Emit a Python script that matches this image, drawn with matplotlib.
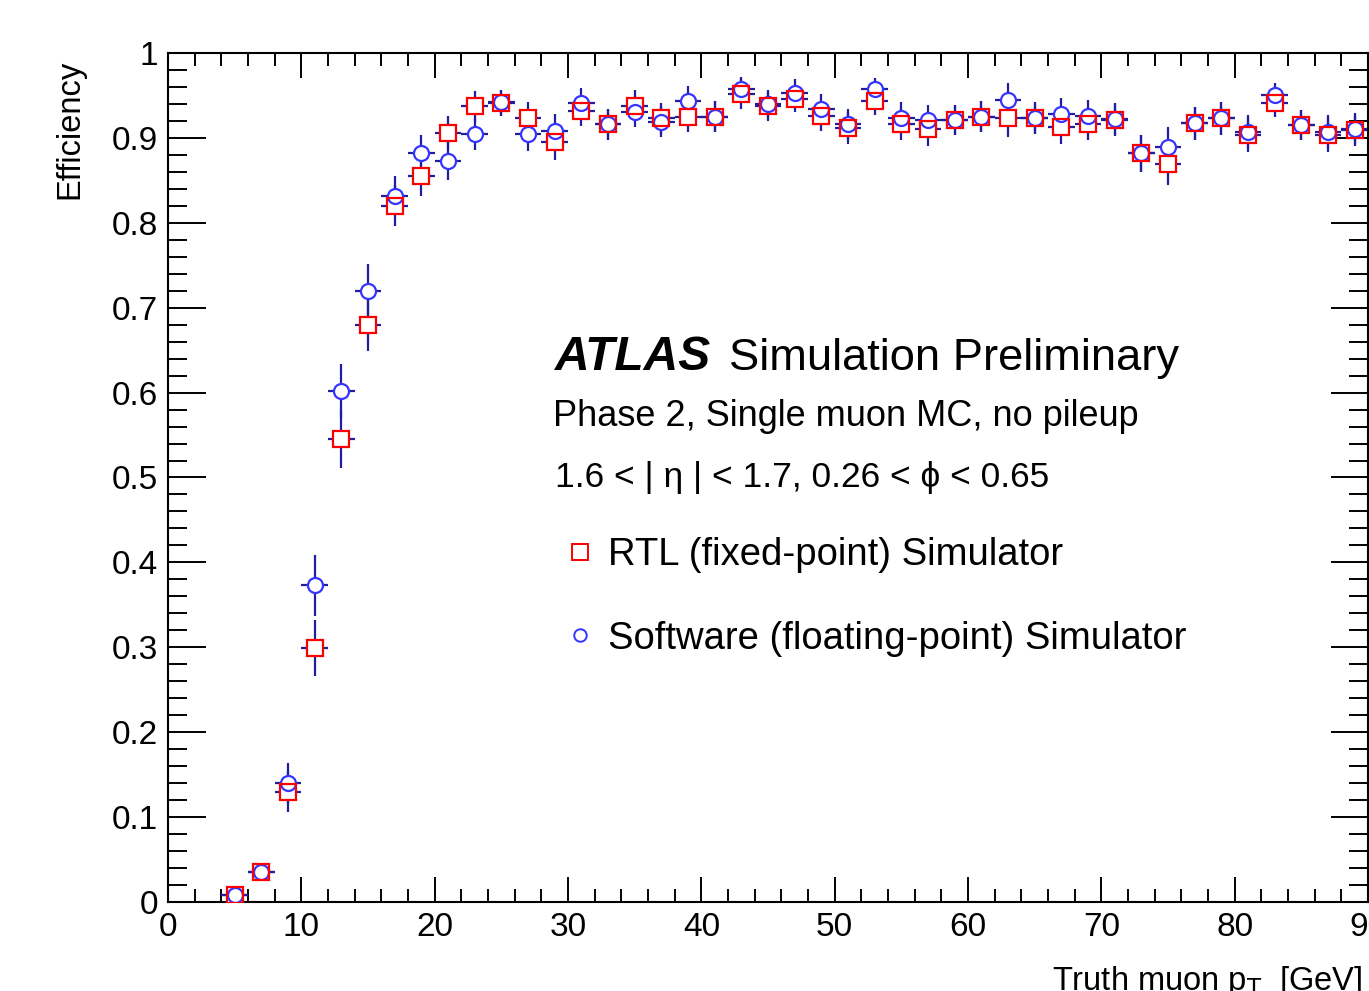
import numpy as np
import matplotlib.pyplot as plt
from matplotlib.lines import Line2D
from matplotlib.ticker import MultipleLocator, FuncFormatter

plt.rcParams['font.family'] = ['Liberation Sans', 'DejaVu Sans']

# bin centres (2 GeV bins)
pt = np.arange(5, 90, 2)

eff_rtl = [0.008, 0.035, 0.130, 0.299, 0.545, 0.680, 0.820, 0.855, 0.906, 0.937,
           0.941, 0.923, 0.895, 0.932, 0.916, 0.938, 0.923, 0.925, 0.925, 0.952,
           0.937, 0.946, 0.926, 0.912, 0.943, 0.916, 0.910, 0.921, 0.925, 0.923,
           0.924, 0.913, 0.916, 0.921, 0.882, 0.869, 0.917, 0.923, 0.903, 0.941,
           0.915, 0.903, 0.909]
err_rtl = [0.006, 0.010, 0.024, 0.033, 0.034, 0.031, 0.024, 0.024, 0.020, 0.018,
           0.015, 0.019, 0.021, 0.018, 0.018, 0.018, 0.018, 0.018, 0.018, 0.018,
           0.017, 0.016, 0.018, 0.019, 0.016, 0.019, 0.020, 0.018, 0.018, 0.022,
           0.018, 0.020, 0.019, 0.019, 0.022, 0.025, 0.019, 0.019, 0.020, 0.016,
           0.018, 0.020, 0.018]

eff_sw = [0.008, 0.035, 0.140, 0.373, 0.602, 0.720, 0.832, 0.882, 0.873, 0.905,
          0.942, 0.905, 0.908, 0.941, 0.916, 0.931, 0.919, 0.943, 0.925, 0.958,
          0.940, 0.953, 0.934, 0.916, 0.958, 0.924, 0.921, 0.921, 0.925, 0.945,
          0.923, 0.928, 0.926, 0.922, 0.882, 0.889, 0.917, 0.923, 0.907, 0.950,
          0.915, 0.907, 0.911]
err_sw = [0.006, 0.010, 0.024, 0.036, 0.032, 0.031, 0.023, 0.021, 0.022, 0.019,
          0.015, 0.020, 0.020, 0.018, 0.018, 0.018, 0.018, 0.018, 0.018, 0.014,
          0.017, 0.016, 0.018, 0.018, 0.013, 0.018, 0.018, 0.018, 0.018, 0.020,
          0.018, 0.019, 0.019, 0.019, 0.022, 0.024, 0.019, 0.019, 0.020, 0.015,
          0.018, 0.020, 0.018]

W, H = 1369, 991
fig = plt.figure(figsize=(W / 100, H / 100), dpi=100)
ax = fig.add_axes([168 / W, 1 - 902 / H, 1200 / W, 849 / H])

barcol = '#1e1ea0'
red = '#ff0000'
blue = '#3535ff'

for y, e in [(eff_rtl, err_rtl), (eff_sw, err_sw)]:
    ax.errorbar(pt, y, xerr=1, yerr=e, fmt='none', ecolor=barcol, elinewidth=1.6, zorder=2)

# white masks so the bars do not run through the open markers
ax.plot(pt, eff_rtl, 's', ms=11.5, mfc='white', mec='white', mew=0, zorder=3)
ax.plot(pt, eff_sw, 'o', ms=10.8, mfc='white', mec='white', mew=0, zorder=3)
ax.plot(pt, eff_sw, 'o', ms=10.8, mfc='none', mec=blue, mew=1.6, zorder=4)
ax.plot(pt, eff_rtl, 's', ms=11.5, mfc='none', mec=red, mew=1.6, zorder=5)

ax.set_xlim(0, 90)
ax.set_ylim(0, 1)
ax.xaxis.set_major_locator(MultipleLocator(10))
ax.xaxis.set_minor_locator(MultipleLocator(2))
ax.yaxis.set_major_locator(MultipleLocator(0.1))
ax.yaxis.set_minor_locator(MultipleLocator(0.02))
ax.yaxis.set_major_formatter(FuncFormatter(lambda v, p: '%g' % round(v, 1)))
ax.tick_params(which='both', direction='in', top=True, right=True, width=1.4, labelsize=24)
ax.tick_params(axis='y', which='major', length=27, pad=7)
ax.tick_params(axis='y', which='minor', length=14)
ax.tick_params(axis='x', which='major', length=18, pad=7)
ax.tick_params(axis='x', which='minor', length=9.5)
for s in ax.spines.values():
    s.set_linewidth(1.5)

fig.text(70 / W, 1 - 60 / H, 'Efficiency', rotation=90, ha='center', va='top', fontsize=23.5)
fig.text(1362 / W, 1 - 990 / H, r'Truth muon p$_{\mathrm{T}}$  [GeV]', ha='right', va='baseline', fontsize=23.5)

fig.text(555 / W, 1 - 370 / H, 'ATLAS', fontsize=34.5, weight='bold', style='italic', va='baseline')
fig.text(729 / W, 1 - 370 / H, 'Simulation Preliminary', fontsize=32.6, va='baseline')
fig.text(553 / W, 1 - 426 / H, 'Phase 2, Single muon MC, no pileup', fontsize=26, va='baseline')
fig.text(555 / W, 1 - 487 / H, '1.6 < | η | < 1.7, 0.26 < ϕ < 0.65', fontsize=25.5, va='baseline')

handles = [Line2D([], [], ls='none', marker='s', ms=11, mfc='none', mec=red, mew=1.4),
           Line2D([], [], ls='none', marker='o', ms=9, mfc='none', mec=blue, mew=1.4)]
fig.legend(handles, ['RTL (fixed-point) Simulator', 'Software (floating-point) Simulator'],
           loc='upper left', bbox_to_anchor=(570 / W, 1 - 537 / H), frameon=False,
           fontsize=27.5, handlelength=0.5, handletextpad=0.5, labelspacing=1.25,
           borderpad=0, borderaxespad=0)

fig.savefig('out.png', dpi=100)
